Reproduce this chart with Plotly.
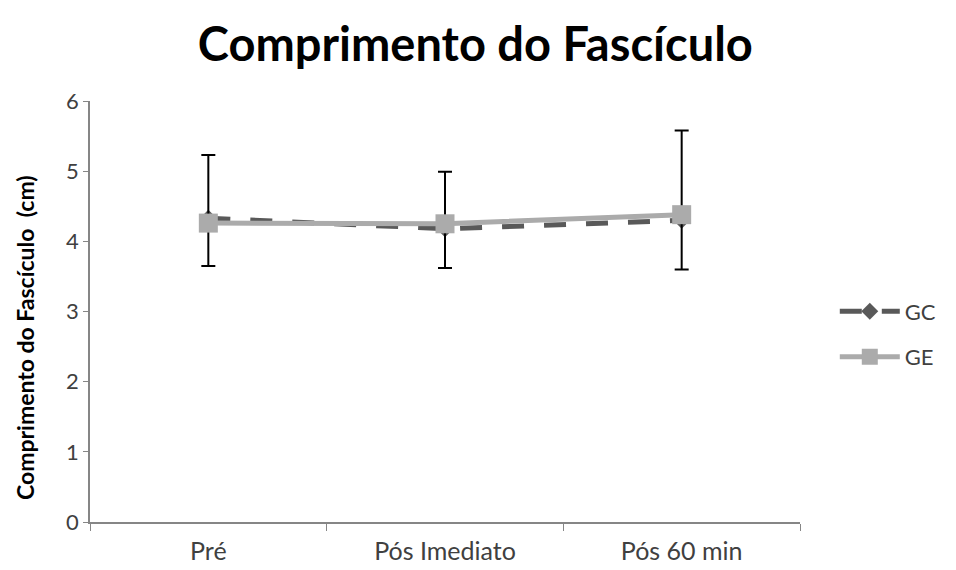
import plotly.graph_objects as go

categories = ["Pré", "Pós Imediato", "Pós 60 min"]
gc_mean = [4.33, 4.18, 4.30]
ge_mean = [4.26, 4.25, 4.38]
err_top = [5.23, 4.99, 5.58]
err_bottom = [3.65, 3.62, 3.60]

err_plus = [t - m for t, m in zip(err_top, ge_mean)]
err_minus = [m - b for m, b in zip(ge_mean, err_bottom)]

FONT = "Lato, Open Sans, sans-serif"

fig = go.Figure()
fig.add_trace(go.Scatter(
    x=categories, y=gc_mean, name="GC", mode="lines+markers", legendgroup="gc",
    line=dict(color="#595959", width=5, dash="22px,20px"),
    marker=dict(symbol="diamond", size=13, color="#595959"),
))
fig.add_trace(go.Scatter(
    x=categories, y=ge_mean, name="GE", mode="lines+markers", legendgroup="ge",
    line=dict(color="#ABABAB", width=5),
    marker=dict(symbol="square", size=19, color="#ABABAB"),
    error_y=dict(type="data", symmetric=False, array=err_plus, arrayminus=err_minus,
                 color="black", thickness=2, width=7),
))

fig.update_layout(
    width=948, height=562,
    margin=dict(l=82, r=156, t=93, b=48),
    paper_bgcolor="white", plot_bgcolor="white",
    title=dict(text="<b>Comprimento do Fascículo</b>", x=0.493, xanchor="center",
               y=0.935, yanchor="middle",
               font=dict(family=FONT, size=47, color="black")),
    font=dict(family=FONT, color="#404040"),
    legend=dict(x=1.049, y=0.55, xanchor="left", yanchor="top",
                traceorder="grouped", tracegroupgap=14, itemwidth=60,
                font=dict(size=22, color="#404040")),
    showlegend=True,
    annotations=[dict(
        text="<b>Comprimento do Fascículo  (cm)</b>", textangle=-90,
        xref="paper", yref="paper", x=-0.0915, y=0.437,
        xanchor="center", yanchor="middle", showarrow=False,
        font=dict(family=FONT, size=23, color="black"),
    )],
)
fig.update_xaxes(
    type="category", range=[-0.5, 2.5], showline=True, linecolor="#868686", linewidth=1.5,
    ticks="outside", ticklen=7, tickcolor="#868686", tickson="boundaries",
    showgrid=False, tickfont=dict(size=25, color="#404040"), ticklabelstandoff=6,
    automargin=False,
)
fig.update_yaxes(
    range=[0, 6], dtick=1, showline=True, linecolor="#868686", linewidth=1.5,
    ticks="outside", ticklen=5, tickcolor="#868686", showgrid=False, zeroline=False,
    tickfont=dict(size=22, color="#404040"), automargin=False,
)

fig.write_html("out.html")
